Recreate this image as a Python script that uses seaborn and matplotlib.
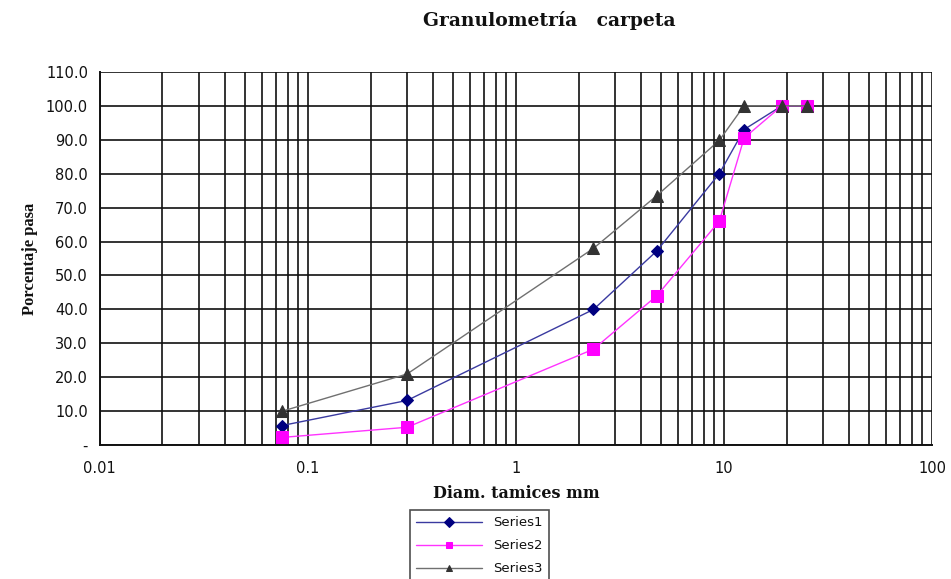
import numpy as np
import pandas as pd
import matplotlib
matplotlib.use("Agg")
import matplotlib.pyplot as plt
import seaborn as sns
from matplotlib.ticker import FixedLocator, FixedFormatter, LogLocator, NullFormatter

# datos
tamices = [0.075, 0.3, 2.36, 4.75, 9.5, 12.5, 19, 25]
serie1 = [5.8, 13.2, 40.0, 57.2, 80.0, 93.0, 100.0, 100.0]
serie2 = [2.3, 5.3, 28.3, 44.0, 66.0, 90.5, 100.0, 100.0]
serie3 = [10.0, 21.0, 58.0, 73.5, 89.8, 100.0, 100.0, 100.0]
nombres = ["Series1", "Series2", "Series3"]

y_ticks = [0, 10, 20, 30, 40, 50, 60, 70, 80, 90, 100, 110]
y_labels = ["-"] + ["%.1f" % v for v in y_ticks[1:]]
x_ticks = [0.01, 0.1, 1, 10, 100]
x_labels = ["0.01", "0.1", "1", "10", "100"]

df = pd.DataFrame({
    "diam": tamices * 3,
    "pasa": serie1 + serie2 + serie3,
    "serie": [nombres[0]] * 8 + [nombres[1]] * 8 + [nombres[2]] * 8,
})

sns.set_style("white")
plt.rcParams["font.family"] = ["DejaVu Sans"]
plt.rcParams["text.color"] = "#111111"

fig = plt.figure(figsize=(9.51, 5.79), dpi=100)
ax = fig.add_axes([0.105, 0.231, 0.875, 0.645])

colores = {"Series1": "#000080", "Series2": "#FF00FF", "Series3": "#333333"}
lineas = {"Series1": "#3a3aa0", "Series2": "#FF33FF", "Series3": "#707070"}
marcas = {"Series1": "D", "Series2": "s", "Series3": "^"}
tam = {"Series1": 6, "Series2": 8, "Series3": 8}

for s in nombres:
    sub = df[df["serie"] == s]
    sns.lineplot(data=sub, x="diam", y="pasa", ax=ax, color=lineas[s],
                 linewidth=1.0, marker=marcas[s], markersize=tam[s],
                 markerfacecolor=colores[s], markeredgecolor=colores[s],
                 label=s, sort=False, zorder=3)

ax.set_xscale("log")
ax.set_xlim(0.01, 100)
ax.set_ylim(0, 110)

ax.yaxis.set_major_locator(FixedLocator(y_ticks))
ax.yaxis.set_major_formatter(FixedFormatter(y_labels))
ax.xaxis.set_major_locator(FixedLocator(x_ticks))
ax.xaxis.set_major_formatter(FixedFormatter(x_labels))
ax.xaxis.set_minor_locator(LogLocator(base=10, subs=np.arange(2, 10)))
ax.xaxis.set_minor_formatter(NullFormatter())

ax.grid(which="major", axis="both", color="#111111", linewidth=1.2)
ax.grid(which="minor", axis="x", color="#111111", linewidth=1.2)
ax.tick_params(axis="both", which="major", direction="out", length=5,
               width=1.2, labelsize=10.5, colors="#111111")
ax.tick_params(axis="x", which="minor", length=0)
ax.tick_params(axis="x", pad=6)

for sp in ["left", "bottom"]:
    ax.spines[sp].set_color("#111111")
    ax.spines[sp].set_linewidth(1.4)
for sp in ["top", "right"]:
    ax.spines[sp].set_visible(False)

serif = ["Liberation Serif", "DejaVu Serif"]
ancho = ["DejaVu Serif"]
fig.text(0.578, 0.965, "Granulometría   carpeta", ha="center", va="center",
         fontsize=13.5, fontweight="bold", family=ancho, color="#111111")
ax.set_xlabel("Diam. tamices mm", fontsize=11.5, fontweight="bold", family=ancho,
              labelpad=7, color="#111111")
ax.set_ylabel("Porcentaje pasa", fontsize=12, fontweight="bold", family=serif,
              labelpad=6, color="#111111")

handles, labels = ax.get_legend_handles_labels()
ax.get_legend().remove()
leg = fig.legend(handles, labels, loc="upper left", bbox_to_anchor=(0.424, 0.131),
                 frameon=True, fancybox=False, fontsize=9.5, handlelength=5,
                 borderpad=0.5, labelspacing=0.75, edgecolor="#222222")
leg.get_frame().set_linewidth(1.2)
for h in leg.legend_handles:
    h.set_markersize(5)

fig.savefig("out.png", dpi=100)
